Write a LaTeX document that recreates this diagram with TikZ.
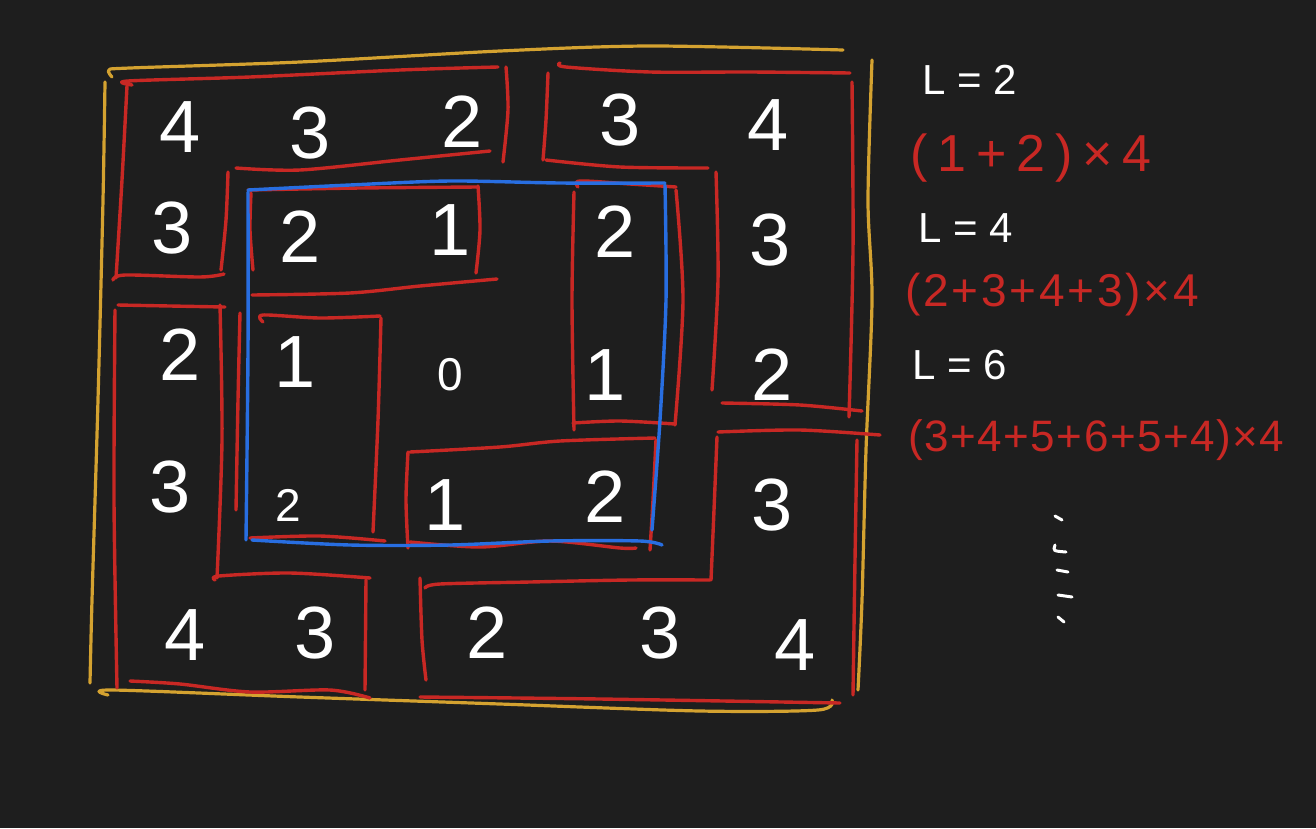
\documentclass[tikz,border=0pt]{standalone}
\usepackage{fontspec}
\setmainfont{Liberation Sans}
\definecolor{bg}{RGB}{30,30,30}
\definecolor{yel}{RGB}{212,162,48}
\definecolor{redc}{RGB}{200,40,36}
\definecolor{bluec}{RGB}{40,110,225}
\begin{document}
\begin{tikzpicture}[x=1pt,y=-1pt,
  yline/.style={draw=yel,line width=3.2pt,line cap=round,line join=round},
  rline/.style={draw=redc,line width=3.4pt,line cap=round,line join=round},
  bline/.style={draw=bluec,line width=3.4pt,line cap=round,line join=round},
  wline/.style={draw=white,line width=3pt,line cap=round},
  num/.style={text=white,font=\fontsize{74}{78}\selectfont,inner sep=0pt},
  smallnum/.style={text=white,font=\fontsize{46}{50}\selectfont,inner sep=0pt},
  wnote/.style={text=white,font=\fontsize{42}{46}\selectfont\addfontfeatures{LetterSpace=28},inner sep=0pt,anchor=west},
  rnote/.style={text=redc,inner sep=0pt,anchor=west}]
\fill[bg] (0,0) rectangle (1316,828);
\useasboundingbox (0,0) rectangle (1316,828);
% yellow outer frame
\draw[yline] plot[smooth,tension=0.5] coordinates {(112,77) (109,70) (130,68) (300,62) (500,51) (650,46) (843,50)};
\draw[yline] plot[smooth,tension=0.5] coordinates {(105,82) (103,200) (98,400) (92,600) (90,683)};
\draw[yline] plot[smooth,tension=0.5] coordinates {(108,695) (112,690) (300,697) (500,704) (700,711) (818,710) (832,700)};
\draw[yline] plot[smooth,tension=0.5] coordinates {(872,60) (868,200) (872,300) (866,450) (862,600) (858,690)};
% red shape 1 (top-left)
\draw[rline] plot[smooth,tension=0.5] coordinates {(132,85) (128,81) (250,77) (400,70) (498,67)};
\draw[rline] plot[smooth,tension=0.5] coordinates {(506,67) (508,110) (503,162)};
\draw[rline] plot[smooth,tension=0.5] coordinates {(236,168) (300,170) (400,160) (490,151)};
\draw[rline] plot[smooth,tension=0.5] coordinates {(228,172) (226,220) (221,270)};
\draw[rline] plot[smooth,tension=0.5] coordinates {(113,280) (125,275) (200,277) (224,274)};
\draw[rline] plot[smooth,tension=0.5] coordinates {(127,86) (122,180) (116,278)};
% red shape 2 (top-right)
\draw[rline] plot[smooth,tension=0.5] coordinates {(560,63) (566,67) (650,72) (750,72) (850,73)};
\draw[rline] plot[smooth,tension=0.5] coordinates {(548,73) (546,120) (543,160)};
\draw[rline] plot[smooth,tension=0.5] coordinates {(546,160) (620,167) (708,168)};
\draw[rline] plot[smooth,tension=0.5] coordinates {(716,172) (718,280) (712,390)};
\draw[rline] plot[smooth,tension=0.5] coordinates {(852,82) (853,250) (849,417)};
\draw[rline] plot[smooth,tension=0.5] coordinates {(722,403) (800,405) (862,411)};
% red shape 3 (bottom-right)
\draw[rline] plot[smooth,tension=0.5] coordinates {(718,432) (800,430) (880,435)};
\draw[rline] plot[smooth,tension=0.5] coordinates {(717,437) (714,510) (711,580)};
\draw[rline] plot[smooth,tension=0.5] coordinates {(425,588) (440,584) (530,582) (630,580) (710,580)};
\draw[rline] plot[smooth,tension=0.5] coordinates {(420,578) (422,640) (426,680)};
\draw[rline] plot[smooth,tension=0.5] coordinates {(420,697) (600,699) (840,703)};
\draw[rline] plot[smooth,tension=0.5] coordinates {(857,440) (855,560) (853,695)};
% red shape 4 (bottom-left)
\draw[rline] plot[smooth,tension=0.5] coordinates {(118,305) (170,306) (225,307)};
\draw[rline] plot[smooth,tension=0.5] coordinates {(115,310) (114,500) (117,688)};
\draw[rline] plot[smooth,tension=0.5] coordinates {(220,305) (222,440) (217,578)};
\draw[rline] plot[smooth,tension=0.5] coordinates {(215,580) (219,576) (290,573) (370,578)};
\draw[rline] plot[smooth,tension=0.5] coordinates {(366,580) (365,690)};
\draw[rline] plot[smooth,tension=0.5] coordinates {(130,681) (180,684) (250,692) (330,690) (370,698)};
% red shape 5 (inner top)
\draw[rline] plot[smooth,tension=0.5] coordinates {(248,190) (360,188) (478,187)};
\draw[rline] plot[smooth,tension=0.5] coordinates {(251,193) (250,230) (253,270)};
\draw[rline] plot[smooth,tension=0.5] coordinates {(478,186) (480,230) (476,273)};
\draw[rline] plot[smooth,tension=0.5] coordinates {(252,295) (350,293) (420,286) (497,279)};
% red shape 6 (inner right)
\draw[rline] plot[smooth,tension=0.5] coordinates {(578,187) (580,181) (630,184) (676,187)};
\draw[rline] plot[smooth,tension=0.5] coordinates {(574,192) (572,300) (574,430)};
\draw[rline] plot[smooth,tension=0.5] coordinates {(676,190) (683,300) (675,425)};
\draw[rline] plot[smooth,tension=0.5] coordinates {(573,423) (620,421) (675,424)};
% red shape 7 (inner bottom)
\draw[rline] plot[smooth,tension=0.5] coordinates {(410,452) (500,447) (560,441) (655,438)};
\draw[rline] plot[smooth,tension=0.5] coordinates {(408,452) (406,500) (408,548)};
\draw[rline] plot[smooth,tension=0.5] coordinates {(656,440) (653,500) (650,550)};
\draw[rline] plot[smooth,tension=0.5] coordinates {(410,542) (480,547) (550,541) (620,548) (636,548)};
% red shape 8 (inner left)
\draw[rline] plot[smooth,tension=0.5] coordinates {(263,322) (263,315) (320,318) (380,316)};
\draw[rline] plot[smooth,tension=0.5] coordinates {(381,318) (378,420) (373,532)};
\draw[rline] plot[smooth,tension=0.5] coordinates {(240,313) (238,400) (236,510)};
\draw[rline] plot[smooth,tension=0.5] coordinates {(250,538) (320,536) (385,541)};
% blue square
\draw[bline] plot[smooth,tension=0.5] coordinates {(248,190) (350,185) (450,181) (560,183) (665,183)};
\draw[bline] plot[smooth,tension=0.5] coordinates {(665,185) (666,300) (660,420) (652,530)};
\draw[bline] plot[smooth,tension=0.5] coordinates {(252,540) (350,545) (450,545) (550,541) (640,541) (662,545)};
\draw[bline] plot[smooth,tension=0.5] coordinates {(248,192) (248,350) (246,540)};
% numbers
\node[num] (a11) at (180,127) {4};
\node[num] (a12) at (310,133) {3};
\node[num] (a13) at (462,122) {2};
\node[num] (a14) at (620,120) {3};
\node[num] (a15) at (768,125) {4};
\node[num] (a21) at (172,228) {3};
\node[num] (a22) at (300,237) {2};
\node[num] (a23) at (450,230) {1};
\node[num] (a24) at (615,232) {2};
\node[num] (a25) at (770,240) {3};
\node[num] (a31) at (180,355) {2};
\node[num] (a32) at (295,362) {1};
\node[smallnum] (a33) at (450,375) {0};
\node[num] (a34) at (605,375) {1};
\node[num] (a35) at (772,375) {2};
\node[num] (a41) at (170,487) {3};
\node[smallnum] (a42) at (288,505) {2};
\node[num] (a43) at (445,505) {1};
\node[num] (a44) at (605,497) {2};
\node[num] (a45) at (772,505) {3};
\node[num] (a51) at (185,635) {4};
\node[num] (a52) at (315,633) {3};
\node[num] (a53) at (487,633) {2};
\node[num] (a54) at (660,633) {3};
\node[num] (a55) at (795,645) {4};
% notes
\node[wnote] (l2) at (922,80) {L=2};
\node[rnote,font=\fontsize{52}{56}\selectfont\addfontfeatures{LetterSpace=19}] (f2) at (910,158) {(1+2)×4};
\node[wnote] (l4) at (918,228) {L=4};
\node[rnote,font=\fontsize{46}{50}\selectfont\addfontfeatures{LetterSpace=6}] (f4) at (905,295) {(2+3+4+3)×4};
\node[wnote] (l6) at (912,365) {L=6};
\node[rnote,font=\fontsize{44}{48}\selectfont\addfontfeatures{LetterSpace=3.5}] (f6) at (908,440) {(3+4+5+6+5+4)×4};
% continuation marks
\draw[wline] (1055,516) -- (1062,520);
\draw[wline] (1055,545) .. controls (1053,551) .. (1066,552);
\draw[wline] (1057,570) -- (1068,572);
\draw[wline] (1058,595) -- (1072,597);
\draw[wline] (1058,617) -- (1064,622);
\end{tikzpicture}
\end{document}
